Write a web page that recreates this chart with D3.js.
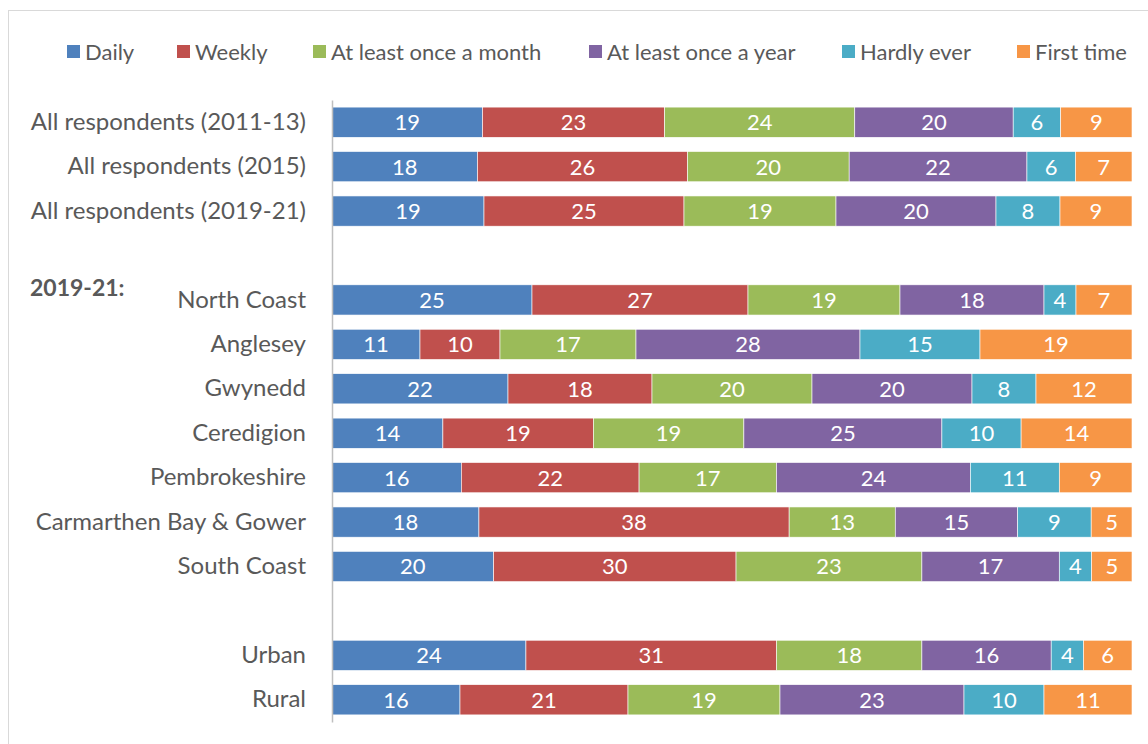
<!DOCTYPE html>
<html><head><meta charset="utf-8">
<script src="https://cdn.jsdelivr.net/npm/d3@7"></script>
<style>body{margin:0;background:#fff}svg{display:block}text{font-family:Lato,"Open Sans",sans-serif}</style>
</head><body><svg id="c" width="1148" height="744"></svg>
<script>
const series = ["Daily","Weekly","At least once a month","At least once a year","Hardly ever","First time"];
const colors = ["#4F81BD","#C0504D","#9BBB59","#8064A2","#4BACC6","#F79646"];
const categories = ["All respondents (2011-13)","All respondents (2015)","All respondents (2019-21)","",
  "North Coast","Anglesey","Gwynedd","Ceredigion","Pembrokeshire","Carmarthen Bay & Gower","South Coast","",
  "Urban","Rural"];
const daily   = [19,18,19,null,25,11,22,14,16,18,20,null,24,16];
const weekly  = [23,26,25,null,27,10,18,19,22,38,30,null,31,21];
const monthly = [24,20,19,null,19,17,20,19,17,13,23,null,18,19];
const yearly  = [20,22,20,null,18,28,20,25,24,15,17,null,16,23];
const hardly  = [6,6,8,null,4,15,8,10,11,9,4,null,4,10];
const first   = [9,7,9,null,7,19,12,14,9,5,5,null,6,11];
const groupLabel = "2019-21:";
const valueSets = [daily,weekly,monthly,yearly,hardly,first];

const svg = d3.select("#c");
svg.append("rect").attr("x",8.5).attr("y",10.5).attr("width",1160).attr("height",760)
  .attr("fill","none").attr("stroke","#d9d9d9");

const x = d3.scaleLinear().domain([0,1]).range([332,1132]);
const y = d3.scaleBand().domain(d3.range(categories.length)).range([100,722]).paddingInner(0.32).paddingOuter(0.16);

const rows = categories.map((c,i)=>{
  if (daily[i]==null) return null;
  const vals = valueSets.map(s=>s[i]);
  const tot = d3.sum(vals);
  let acc = 0;
  return vals.map((v,k)=>{const s={k,v,x0:acc/tot,x1:(acc+v)/tot,i}; acc+=v; return s;});
}).filter(r=>r);

const g = svg.append("g");
rows.forEach(r=>{
  const rg = g.append("g");
  rg.selectAll("rect").data(r).join("rect")
    .attr("x",d=>x(d.x0)).attr("width",d=>x(d.x1)-x(d.x0))
    .attr("y",d=>y(d.i)).attr("height",y.bandwidth())
    .attr("fill",d=>colors[d.k]).attr("stroke","#fff").attr("stroke-width",0.6);
  rg.selectAll("text").data(r).join("text")
    .attr("x",d=>(x(d.x0)+x(d.x1))/2).attr("y",d=>y(d.i)+y.bandwidth()/2)
    .attr("dy","0.36em").attr("text-anchor","middle").attr("fill","#fff")
    .attr("font-size",22).text(d=>d.v);
});

const ax = svg.append("g").attr("transform","translate(332,0)")
  .call(d3.axisLeft(y).tickSize(0).tickPadding(26).tickFormat(i=>categories[i]));
ax.select(".domain").attr("stroke","#bfbfbf").attr("stroke-width",1.5);
ax.selectAll("text").attr("font-size",24).attr("fill","#595959").attr("font-family","Lato,'Open Sans',sans-serif");

svg.append("text").attr("x",30).attr("y",y(4)+y.bandwidth()/2-12).attr("dy","0.36em")
  .attr("font-size",23).attr("font-weight","bold").attr("fill","#595959").text(groupLabel);

// legend
const lx = [67,177,313,589,842,1017];
const lg = svg.append("g");
series.forEach((s,k)=>{
  lg.append("rect").attr("x",lx[k]).attr("y",45).attr("width",13).attr("height",13).attr("fill",colors[k]);
  lg.append("text").attr("x",lx[k]+18).attr("y",52).attr("dy","0.36em").attr("font-size",22)
    .attr("fill","#595959").text(s);
});
</script></body></html>
